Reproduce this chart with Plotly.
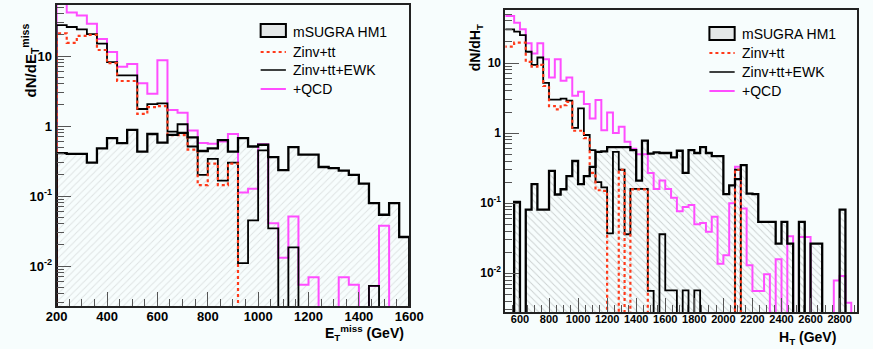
import plotly.graph_objects as go

# ---------------- data ----------------
# Left panel: E_T^miss, 40 GeV bins from 200 to 1600
met_start, met_bin, met_nbins = 200, 40, 35
msugra_met = [0.41, 0.40, 0.40, 0.30, 0.48, 0.67, 0.57, 0.88, 0.43, 0.77,
              0.58, 0.75, 0.80, 0.69, 0.44, 0.48, 0.63, 0.43, 0.67, 0.51,
              0.54, 0.36, 0.235, 0.50, 0.39, 0.39, 0.26, 0.25, 0.23, 0.20,
              0.15, 0.079, 0.054, 0.079, 0.026]
zinvtt_met = [21, 15.4, 19.4, 20, 12.2, 7.9, 4.4, 4.4, 1.49, 1.86,
              1.93, 0.74, 0.74, 0.46, 0.143, 0.29, 0.143, 0.29, 0, 0,
              0, 0, 0, 0, 0, 0, 0, 0, 0, 0,
              0, 0, 0, 0, 0]
ewk_met = [27.7, 26, 24, 20.6, 15, 8.2, 5.3, 5.3, 1.75, 2.05,
           2.1, 0.83, 1.06, 0.51, 0.2, 0.34, 0.166, 0.30, 0.011, 0.045,
           0.45, 0.0345, 0, 0.0185, 0, 0, 0, 0, 0, 0,
           0, 0.0052, 0, 0, 0]
qcd_met = [58, 42, 38, 29, 17.5, 11.4, 7.0, 7.7, 4.1, 2.9,
           8.7, 1.69, 1.55, 0.86, 0.57, 0.56, 0.6, 0.77, 0.112, 0.127,
           0.55, 0.041, 0.0131, 0.051, 0.0054, 0.0069, 0, 0, 0.0069, 0.0054,
           0, 0.0052, 0.0377, 0, 0]

# Right panel: H_T, 40 GeV bins from 480 to 2920 (axis shows 500-2920)
ht_start, ht_bin, ht_nbins = 480, 40, 61
msugra_ht = [0, 0, 0.104, 0, 0.081, 0.187, 0.081, 0.081, 0.29, 0.133,
             0.158, 0.243, 0.40, 0.187, 0.243, 0.33, 0.54, 0.55, 0.63, 0.63,
             0.63, 0.63, 0.57, 0.21, 0.78, 0.51, 0.53, 0.52, 0.52, 0.45,
             0.56, 0.27, 0.57, 0.52, 0.63, 0.52, 0.47, 0.47, 0.135, 0.18,
             0.22, 0.35, 0.137, 0.135, 0.054, 0.054, 0.054, 0.0265, 0.054, 0.0265,
             0, 0.054, 0, 0.0265, 0.0265, 0, 0, 0, 0.081, 0,
             0]
zinvtt_ht = [17.1, 17.1, 19.5, 19.5, 10.4, 8.9, 9.4, 4.7, 2.43, 2.18,
             2.5, 2.8, 1.08, 1.08, 0.85, 0.27, 0.153, 0.15, 0, 0,
             0.3, 0, 0.157, 0.157, 0.157, 0, 0, 0, 0, 0,
             0, 0, 0, 0, 0, 0, 0, 0, 0, 0,
             0.3, 0, 0, 0, 0, 0, 0, 0, 0, 0,
             0, 0, 0, 0, 0, 0, 0, 0, 0, 0,
             0]
ewk_ht = [30.3, 30.3, 28, 25, 14.5, 9.4, 12, 5.2, 3.0, 3.0,
          3.1, 2.9, 1.19, 2.25, 0.94, 0.57, 0.2, 0.168, 0.037, 0.54,
          0.3, 0.036, 0.16, 0.16, 0.16, 0.0056, 0, 0.036, 0.0057, 0.0057,
          0, 0.0057, 0, 0.0057, 0, 0, 0, 0, 0, 0,
          0.30, 0, 0, 0, 0, 0, 0, 0, 0, 0,
          0, 0, 0, 0, 0, 0, 0, 0, 0, 0,
          0]
qcd_ht = [46.9, 46.9, 37.6, 30.3, 19.1, 13.7, 19.1, 11.3, 6.2, 11.3,
          5.6, 6.2, 3.4, 3.9, 2.6, 1.62, 2.96, 1.1, 1.97, 1.0,
          1.23, 0.75, 0.6, 0.5, 0.5, 0.27, 0.16, 0.21, 0.16, 0.12,
          0.077, 0.088, 0.094, 0.05, 0.052, 0.039, 0.064, 0.0137, 0.018, 0.10,
          0.33, 0.084, 0.013, 0.0056, 0.0056, 0.0097, 0, 0.0158, 0, 0.0338,
          0, 0.033, 0.033, 0, 0, 0, 0, 0.0079, 0.0091, 0.0038,
          0]

legend_labels = ["mSUGRA HM1", "Zinv+tt", "Zinv+tt+EWK", "+QCD"]
ytick_vals = [0.01, 0.1, 1, 10]
ytick_text = ["10<sup>-2</sup>", "10<sup>-1</sup>", "1", "10"]

# ---------------- styling ----------------
W, H = 873, 349
BG = "#f7fdfd"
RED = "#ff3a1a"
MAG = "#ff4dff"
FLOOR = 1e-5
FONT = "Liberation Sans, Arial, sans-serif"


def px(x):
    return x / W


def py(y):
    return 1 - y / H


def edges_of(start, width, n):
    return [start + width * i for i in range(n + 1)]


def step(edges, vals):
    ys = [v if v > 0 else FLOOR for v in vals]
    xs = [edges[0]] + list(edges) + [edges[-1]]
    yy = [FLOOR] + ys + [ys[-1], FLOOR]
    return xs, yy


fig = go.Figure()

panels = [
    dict(xa="x", ya="y", edges=edges_of(met_start, met_bin, met_nbins),
         ms=msugra_met, zt=zinvtt_met, ew=ewk_met, qc=qcd_met,
         hatch="/", hcol="#c4c8c8", bw=met_bin),
    dict(xa="x2", ya="y2", edges=edges_of(ht_start, ht_bin, ht_nbins),
         ms=msugra_ht, zt=zinvtt_ht, ew=ewk_ht, qc=qcd_ht,
         hatch="\\", hcol="#9ea2a2", bw=ht_bin),
]

for p in panels:
    e = p["edges"]
    centers = [(e[i] + e[i + 1]) / 2 for i in range(len(e) - 1)]
    fig.add_trace(go.Bar(
        x=centers, y=p["ms"], width=p["bw"], xaxis=p["xa"], yaxis=p["ya"],
        marker=dict(color="rgba(0,0,0,0)", line=dict(width=0),
                    pattern=dict(shape=p["hatch"], fgcolor=p["hcol"],
                                 bgcolor="rgba(0,0,0,0)", size=5, solidity=0.18)),
        showlegend=False, hoverinfo="skip"))
    for vals, col, wdt, dash in [(p["qc"], MAG, 2, "solid"),
                                 (p["ew"], "black", 1.8, "solid"),
                                 (p["zt"], RED, 2.2, "dot"),
                                 (p["ms"], "black", 2.3, "solid")]:
        xs, ys = step(e, vals)
        fig.add_trace(go.Scatter(x=xs, y=ys, mode="lines", xaxis=p["xa"], yaxis=p["ya"],
                                 line=dict(color=col, width=wdt, dash=dash, shape="hv"),
                                 showlegend=False, hoverinfo="skip"))

minor_y = [m * 10 ** k for k in range(-3, 2) for m in range(2, 10)]


def tf(size):
    return dict(family=FONT, size=size, color="black", weight="bold")


def xaxis(domain, rng, anchor, fs, standoff):
    return dict(domain=domain, range=rng, anchor=anchor, tickmode="linear", tick0=0, dtick=200,
                tickangle=0, ticks="inside", ticklen=14, tickwidth=1, tickcolor="#555",
                ticklabelstandoff=standoff,
                showline=True, mirror=True, linewidth=2, linecolor="#222",
                showgrid=False, zeroline=False, tickfont=tf(fs),
                minor=dict(dtick=50, tick0=0, ticks="inside", ticklen=7, tickwidth=1,
                           tickcolor="#555", showgrid=False))


def yaxis(domain, rng, anchor, fs):
    return dict(domain=domain, range=rng, anchor=anchor, type="log",
                tickmode="array", tickvals=ytick_vals, ticktext=ytick_text,
                ticks="inside", ticklen=14, tickwidth=1, tickcolor="#555",
                showline=True, mirror=True, linewidth=2, linecolor="#222",
                showgrid=False, zeroline=False, tickfont=tf(fs),
                minor=dict(tickmode="array", tickvals=minor_y, ticks="inside", ticklen=7,
                           tickwidth=1, tickcolor="#555", showgrid=False))


fig.update_layout(
    width=W, height=H, margin=dict(l=0, r=0, t=0, b=0),
    paper_bgcolor=BG, plot_bgcolor=BG, bargap=0, showlegend=False,
    xaxis=xaxis([px(47), px(410)], [200, 1600], "y", 13, -3),
    yaxis=yaxis([py(306), py(5)], [-2.571, 1.729], "x", 13),
    xaxis2=xaxis([px(509), px(871)], [500, 2920], "y2", 11, -4),
    yaxis2=yaxis([py(312), py(10)], [-2.553, 1.757], "x2", 12),
)

ann = [
    dict(x=px(20), y=py(60), text="dN/dE<sub>T</sub><sup>miss</sup>", textangle=-90, size=15),
    dict(x=px(479), y=py(48), text="dN/dH<sub>T</sub>", textangle=-90, size=14),
    dict(x=px(364), y=py(333), text="E<sub>T</sub><sup>miss</sup> (GeV)", textangle=0, size=14),
    dict(x=px(820), y=py(338), text="H<sub>T</sub> (GeV)", textangle=0, size=14),
]
for a in ann:
    fig.add_annotation(xref="paper", yref="paper", showarrow=False, font=tf(a["size"]),
                       xanchor="center", yanchor="middle", x=a["x"], y=a["y"],
                       text=a["text"], textangle=a["textangle"])

# legends (one per panel)
legfont = dict(family=FONT, size=14, color="black")
for (bx, by0, rows) in [(257, 24, [32, 52, 70, 89]), (719, 27, [34, 53, 72, 91])]:
    fig.add_shape(type="rect", xref="paper", yref="paper",
                  x0=px(bx), x1=px(bx + 26), y0=py(by0 + 13), y1=py(by0),
                  line=dict(color="black", width=2), fillcolor="#e4e8e8")
    for (yy, col, dash, wdt) in [(rows[1], RED, "dot", 2), (rows[2], "black", "solid", 1.5),
                                 (rows[3], MAG, "solid", 2)]:
        fig.add_shape(type="line", xref="paper", yref="paper",
                      x0=px(bx), x1=px(bx + 26), y0=py(yy), y1=py(yy),
                      line=dict(color=col, width=wdt, dash=dash))
    for lab, yy in zip(legend_labels, rows):
        fig.add_annotation(xref="paper", yref="paper", x=px(bx + 31), y=py(yy), text=lab,
                           showarrow=False, xanchor="left", yanchor="middle", font=legfont)

fig.write_html("out.html", config={"displayModeBar": False},
               post_script="document.body.style.margin='0';document.body.style.background='" + BG + "';")
